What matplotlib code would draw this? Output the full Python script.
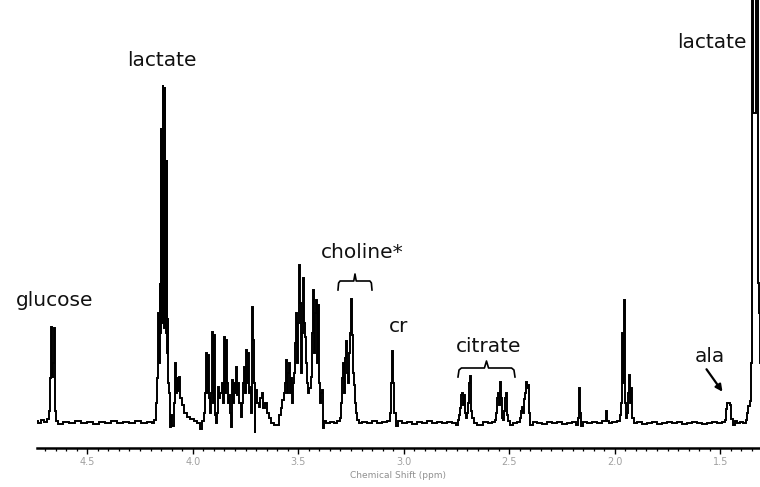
import matplotlib
matplotlib.use("Agg")
import matplotlib.pyplot as plt
import numpy as np

# Spectrum trace: chemical shift (ppm) and intensity (a.u.)
shift_ppm = [
    4.7383, 4.7241, 4.7099, 4.6957,
    4.6862, 4.6767, 4.6720, 4.6673, 4.6639, 4.6611, 4.6564, 4.6530, 4.6483, 4.6436,
    4.6293, 4.6009, 4.5725, 4.5440, 4.5156, 4.4872, 4.4587, 4.4303, 4.4019, 4.3734,
    4.3450, 4.3166, 4.2881, 4.2597, 4.2312, 4.2028, 4.1839,
    4.1791, 4.1696, 4.1649, 4.1616, 4.1587, 4.1554, 4.1530, 4.1507, 4.1483, 4.1459,
    4.1436, 4.1412, 4.1388, 4.1365, 4.1341, 4.1317, 4.1293, 4.1270, 4.1246, 4.1222,
    4.1199, 4.1175, 4.1142, 4.1104, 4.1056, 4.0985, 4.0938, 4.0867, 4.0796, 4.0748,
    4.0701, 4.0654, 4.0606, 4.0559, 4.0464, 4.0322, 4.0180, 4.0037, 3.9848, 3.9706,
    3.9564, 3.9516,
    3.9421, 3.9374, 3.9327, 3.9279, 3.9232, 3.9184, 3.9137, 3.9090, 3.9042, 3.8995,
    3.8948, 3.8900, 3.8853, 3.8805, 3.8758, 3.8711, 3.8663, 3.8568, 3.8521, 3.8474,
    3.8426, 3.8379, 3.8331, 3.8284, 3.8237, 3.8189, 3.8142, 3.8094, 3.8047, 3.8000,
    3.7952, 3.7905, 3.7857, 3.7810, 3.7763, 3.7668, 3.7620, 3.7573, 3.7526, 3.7478,
    3.7431, 3.7384, 3.7336, 3.7289, 3.7241, 3.7194, 3.7147, 3.7099, 3.7075, 3.7052,
    3.7004, 3.6957, 3.6910, 3.6815, 3.6767, 3.6673, 3.6625, 3.6530, 3.6436, 3.6341,
    3.6199, 3.6104, 3.5962, 3.5867, 3.5772, 3.5725, 3.5630, 3.5583, 3.5535, 3.5488,
    3.5440, 3.5393, 3.5346, 3.5298, 3.5251, 3.5203, 3.5156, 3.5109, 3.5061, 3.5014,
    3.4966, 3.4919, 3.4872, 3.4848, 3.4824, 3.4777, 3.4730, 3.4682, 3.4635, 3.4587,
    3.4540, 3.4493, 3.4445, 3.4350, 3.4303, 3.4256, 3.4208, 3.4161, 3.4113, 3.4066,
    3.4019, 3.3971, 3.3924, 3.3876, 3.3829, 3.3782, 3.3734, 3.3592, 3.3403, 3.3213,
    3.3071,
    3.2976, 3.2929, 3.2881, 3.2834, 3.2786, 3.2739, 3.2692, 3.2644, 3.2597, 3.2550,
    3.2502, 3.2455, 3.2407, 3.2360, 3.2313, 3.2265, 3.2218, 3.2170, 3.2076, 3.1839,
    3.1602, 3.1365, 3.1128, 3.0891, 3.0701,
    3.0606, 3.0559, 3.0512, 3.0464, 3.0417, 3.0322, 3.0180, 2.9943, 2.9706, 2.9469,
    2.9232, 2.8995, 2.8758, 2.8521, 2.8284, 2.8047, 2.7810, 2.7573, 2.7431,
    2.7384, 2.7336, 2.7289, 2.7241, 2.7194, 2.7147, 2.7099, 2.7052, 2.7004, 2.6957,
    2.6910, 2.6862, 2.6815, 2.6767, 2.6720, 2.6625, 2.6388, 2.6151, 2.5914, 2.5725,
    2.5630, 2.5583, 2.5535, 2.5488, 2.5441, 2.5393, 2.5346, 2.5298, 2.5251, 2.5204,
    2.5156, 2.5109, 2.5061, 2.5014, 2.4919, 2.4730, 2.4540, 2.4445, 2.4398, 2.4351,
    2.4303, 2.4256, 2.4208, 2.4161, 2.4114, 2.4066, 2.4019, 2.3971, 2.3782, 2.3545,
    2.3308, 2.3071, 2.2834, 2.2597, 2.2360, 2.2123, 2.1886, 2.1744, 2.1696, 2.1649,
    2.1602, 2.1554, 2.1460, 2.1175, 2.0938, 2.0701, 2.0464, 2.0369, 2.0322, 2.0227,
    1.9990, 1.9801, 1.9706, 1.9659, 1.9611, 1.9564, 1.9516, 1.9469, 1.9422, 1.9374,
    1.9327, 1.9279, 1.9232, 1.9185, 1.9137, 1.9042, 1.8806, 1.8569, 1.8332, 1.8095,
    1.7858, 1.7621, 1.7384, 1.7147, 1.6910, 1.6673, 1.6436, 1.6199, 1.5962, 1.5725,
    1.5488, 1.5251, 1.5014, 1.4825,
    1.4730, 1.4682, 1.4635, 1.4540, 1.4493, 1.4445, 1.4351, 1.4256, 1.4161, 1.3971,
    1.3829, 1.3734, 1.3687, 1.3640, 1.3569, 1.3521, 1.3498, 1.3379, 1.3261, 1.3199,
    1.3152, 1.3095,
]
intensity = [
    2, 0, 3, 1,
    4, 12, 45, 96, 46, 60, 95, 40, 12, 2,
    -1, 1, 0, 2, 0, 1, -1, 1, 0, 2,
    0, 1, 0, 2, 0, 1, 0,
    3, 20, 45, 110, 60, 140, 90, 295, 120, 250,
    100, 338, 110, 300, 95, 336, 100, 240, 90, 263,
    70, 105, 40, 30, -4, 8, -3, 20, 60, 30,
    45, 32, 46, 25, 18, 10, 6, 4, 2, 0,
    -6, 2,
    10, 30, 70, 30, 68, 25, 10, 30, 91, 20,
    88, 8, 0, 10, 36, 25, 30, 40, 20, 86,
    30, 83, 40, 20, 28, 10, -4, 43, 20, 40,
    30, 56, 28, 40, 20, 6, 20, 40, 56, 30,
    73, 40, 70, 30, 36, 10, 116, 83, 40, -10,
    20, 33, 20, 16, 25, 30, 15, 20, 10, 5,
    0, -2, -2, 8, 15, 23, 30, 40, 63, 30,
    50, 60, 30, 45, 20, 40, 50, 80, 110, 60,
    100, 158, 120, 50, 70, 90, 145, 100, 86, 60,
    40, 30, 35, 46, 90, 133, 70, 110, 123, 60,
    118, 40, 20, 30, 33, -5, 2, 0, 1, 0,
    2,
    5, 20, 45, 60, 30, 65, 82, 50, 40, 70,
    90, 124, 88, 50, 38, 20, 10, 3, 0, 1,
    0, 2, 0, 1, 2,
    10, 40, 72, 40, 10, -3, 2, 0, 1, -1,
    1, 0, 2, 0, 1, 0, 1, 0, -2,
    3, 8, 15, 28, 30, 18, 28, 10, 5, 10,
    20, 40, 47, 12, 5, 0, -2, 1, 0, 1,
    3, 10, 25, 30, 18, 41, 25, 5, 3, 12,
    25, 30, 8, 2, -2, 0, 1, 5, 12, 16,
    10, 24, 30, 41, 35, 38, 10, -2, 1, 0,
    -1, 1, 0, 1, -1, 0, 1, -2, 5, 35,
    10, -3, 1, 0, 1, 0, 2, 12, 2, 0,
    1, 2, 8, 20, 90, 40, 123, 20, 5, 10,
    30, 48, 20, 35, 5, 0, 1, -1, 0, 1,
    -1, 0, 1, 0, 1, -1, 0, 1, 0, -1,
    0, 1, 0, 1,
    3, 14, 20, 20, 18, 4, -2, 2, 0, 1,
    0, 3, 10, 17, 22, 60, 700, 310, 700, 140,
    110, 60,
]

peak_labels = ["glucose", "lactate", "choline*", "cr", "citrate", "ala", "lactate"]
label_ppm = [4.653, 4.146, 3.198, 3.023, 2.596, 1.549, 1.539]
label_height = [123, 363, 171, 97, 76, 66, 381]

major_ticks = [4.5, 4.0, 3.5, 3.0, 2.5, 2.0, 1.5]
major_tick_labels = ["4.5", "4.0", "3.5", "3.0", "2.5", "2.0", "1.5"]

fig = plt.figure(figsize=(7.6, 4.87), dpi=100)
ax = fig.add_axes([37 / 760, 39 / 487, 723 / 760, 448 / 487])
ax.plot(shift_ppm, intensity, color="black", lw=1.4, drawstyle="steps-mid",
        solid_joinstyle="miter")
ax.set_xlim(4.7383, 1.3118)
ax.set_ylim(-25, 423)

for s in ["top", "right", "left"]:
    ax.spines[s].set_visible(False)
ax.spines["bottom"].set_linewidth(1.8)
ax.set_yticks([])
ax.set_xticks(major_ticks)
ax.set_xticklabels(major_tick_labels)
ax.set_xticks(np.arange(1.35, 4.75, 0.05), minor=True)
ax.tick_params(axis="x", which="major", length=4, width=1.0, pad=2.5,
               labelsize=7, labelcolor="#a0a0a0", direction="out")
ax.tick_params(axis="x", which="minor", length=2.2, width=0.9, direction="out")
ax.set_xlabel("Chemical Shift (ppm)", fontsize=6.5, color="#909090", labelpad=3)

for txt, xp, yh in zip(peak_labels, label_ppm, label_height):
    ax.text(xp, yh, txt, ha="center", va="center", fontsize=14.5,
            family="DejaVu Sans", color="#111111")


def brace(x_left, x_right, h_base, h_top, h_tip):
    xm = 0.5 * (x_left + x_right)
    d = 0.06 * (x_left - x_right)
    xs = [x_left, x_left - d * 0.3, x_left - d, xm + d * 0.6, xm, xm - d * 0.6,
          x_right + d, x_right + d * 0.3, x_right]
    ys = [h_base, h_top - 2, h_top, h_top, h_tip, h_top, h_top, h_top - 2, h_base]
    ax.plot(xs, ys, color="black", lw=1.2)


brace(3.3118, 3.1507, 133, 142, 149)
brace(2.7431, 2.4730, 46, 55, 62)

ax.annotate("", xy=(1.482, 29), xytext=(1.573, 56),
            arrowprops=dict(arrowstyle="-|>", color="black", lw=1.6,
                            mutation_scale=10))

fig.savefig("out.png", dpi=100)
